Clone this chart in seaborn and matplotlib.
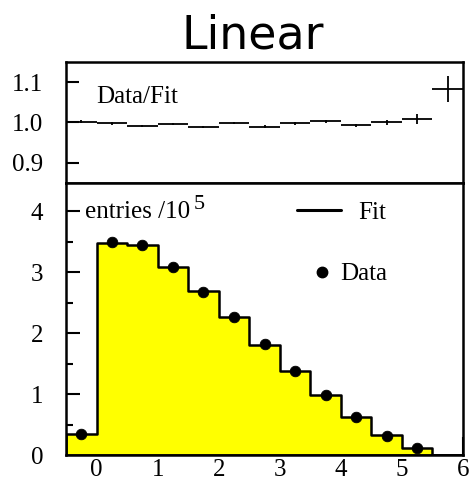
import numpy as np
import pandas as pd
import matplotlib
matplotlib.use("Agg")
import matplotlib.pyplot as plt
from matplotlib.lines import Line2D
import seaborn as sns

# Bin edges and per-bin values
bin_edges = [-0.5, 0.0, 0.5, 1.0, 1.5, 2.0, 2.5, 3.0, 3.5, 4.0, 4.5, 5.0, 5.5, 6.0]
fit_values = [0.34, 3.48, 3.45, 3.09, 2.69, 2.26, 1.81, 1.38, 0.98, 0.62, 0.32, 0.12, 0.0]
data_values = [0.35, 3.49, 3.45, 3.09, 2.68, 2.26, 1.82, 1.37, 0.98, 0.62, 0.31, 0.12]
ratio_values = [1.002, 0.998, 0.992, 0.996, 0.989, 0.999, 0.990, 0.998, 1.003, 0.993, 1.000, 1.008, 1.083]
ratio_errors = [0.003, 0.003, 0.003, 0.003, 0.003, 0.003, 0.003, 0.003, 0.004, 0.004, 0.005, 0.012, 0.033]
y_ticks_ratio = [0.9, 1.0, 1.1]
y_ticks_main = [0, 1, 2, 3, 4]
x_ticks = [0, 1, 2, 3, 4, 5, 6]

edges = np.array(bin_edges)
centers = (edges[:-1] + edges[1:]) / 2
half_width = np.diff(edges) / 2

sns.set_style("ticks", {"axes.edgecolor": "black", "xtick.color": "black",
                        "ytick.color": "black", "axes.labelcolor": "black"})
plt.rcParams["font.family"] = ["Liberation Serif", "DejaVu Serif"]
plt.rcParams["text.color"] = "black"

FS = 18
fig = plt.figure(figsize=(4.69, 4.83), dpi=100)
W, H = 469, 483
left, right = 66, 463
ax_top = fig.add_axes([left / W, 1 - 183 / H, (right - left) / W, (183 - 62) / H])
ax_bot = fig.add_axes([left / W, 1 - 455 / H, (right - left) / W, (455 - 183) / H])

# --- Ratio panel ---
ax_top.errorbar(centers, ratio_values, xerr=half_width[:len(ratio_values)],
                yerr=ratio_errors, fmt="none", ecolor="black", elinewidth=1.3)
ax_top.set_xlim(-0.5, 6)
ax_top.set_ylim(0.85, 1.15)
ax_top.set_yticks(y_ticks_ratio)
ax_top.set_yticklabels(["0.9", "1.0", "1.1"])
ax_top.set_xticks([])
ax_top.tick_params(axis="y", direction="in", length=9.5, width=1.5, pad=16.5,
                   labelsize=FS, colors="black")
ax_top.text(0.0, 1.062, "Data/Fit", fontsize=FS, ha="left", va="center")

# --- Main panel ---
fit_df = pd.DataFrame({"x": centers, "w": fit_values})
sns.histplot(data=fit_df, x="x", weights="w", bins=bin_edges, element="step",
             fill=True, color="#ffff00", alpha=1.0, edgecolor="black",
             linewidth=1.8, ax=ax_bot)
data_df = pd.DataFrame({"x": centers[:len(data_values)], "y": data_values})
sns.scatterplot(data=data_df, x="x", y="y", color="black", s=58,
                edgecolor="black", zorder=5, ax=ax_bot)
ax_bot.set_xlim(-0.5, 6)
ax_bot.set_ylim(0, 4.46)
ax_bot.set_xlabel("")
ax_bot.set_ylabel("")
ax_bot.set_xticks(x_ticks)
ax_bot.set_yticks(y_ticks_main)
ax_bot.set_yticks(np.arange(0.5, 4.5, 1.0), minor=True)
ax_bot.tick_params(axis="y", which="major", direction="in", length=10,
                   width=1.5, pad=16.5, labelsize=FS, colors="black")
ax_bot.tick_params(axis="y", which="minor", direction="in", length=5,
                   width=1.5, colors="black")
ax_bot.tick_params(axis="x", which="major", direction="in", length=13,
                   width=1.5, pad=3, labelsize=FS, colors="black")

# Axis quantity label with a full-size raised exponent
units = ax_bot.text(0.048, 0.893, "entries /10", transform=ax_bot.transAxes,
                    fontsize=FS, ha="left", va="center")
ax_bot.annotate("5", xy=(1, 0), xycoords=units, xytext=(2.5, 10.5),
                textcoords="offset points", fontsize=FS - 2, ha="left",
                va="baseline")

# Legend entries, each placed in its own block
fit_leg = ax_bot.legend([Line2D([], [], color="black", lw=2.2)], ["Fit"],
                        loc="center left", bbox_to_anchor=(0.582, 0.89),
                        frameon=False, fontsize=FS, handlelength=1.76,
                        handletextpad=0.68, borderpad=0, borderaxespad=0)
ax_bot.add_artist(fit_leg)
ax_bot.legend([Line2D([], [], color="black", marker="o", ls="none",
                      markersize=7.5)], ["Data"],
              loc="center left", bbox_to_anchor=(0.613, 0.665),
              frameon=False, fontsize=FS, handlelength=1.0,
              handletextpad=0.22, borderpad=0, borderaxespad=0)

for ax in (ax_top, ax_bot):
    for sp in ax.spines.values():
        sp.set_linewidth(1.8)
        sp.set_color("black")
        sp.set_visible(True)

fig.text(253 / W, 1 - 36 / H, "Linear", family="DejaVu Sans", fontsize=33,
         ha="center", va="center", color="black")

fig.savefig("out.png", dpi=100)
